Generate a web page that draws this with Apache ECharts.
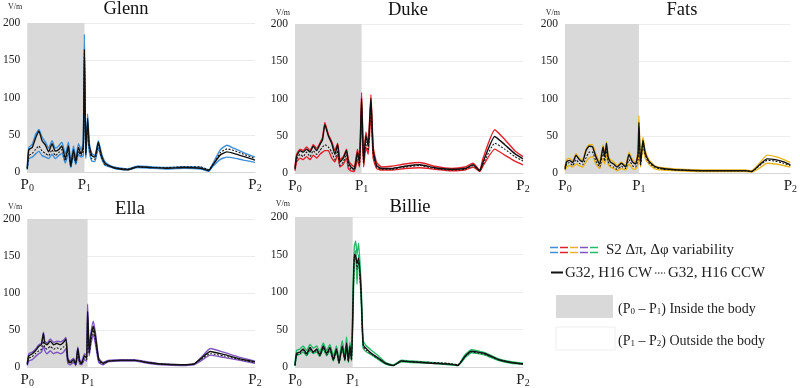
<!DOCTYPE html>
<html>
<head>
<meta charset="utf-8">
<script src="https://cdn.jsdelivr.net/npm/echarts@6/dist/echarts.min.js"></script>
<style>
  html, body { margin: 0; padding: 0; background: #fff; }
  #chart { width: 800px; height: 388px; }
</style>
</head>
<body>
<div id="chart"></div>
<script>
// position along the probe line, in % of P0..P2; P1 marks the body boundary
const glennP1 = 25.1;
const glennX = [0, 0.7, 2.2, 3.6, 5.1, 6.5, 8.0, 9.4, 10.9, 12.3, 13.8, 15.2, 16.7, 18.1, 19.1, 20.3, 21.3, 22.5, 23.6, 24.6, 25.1, 25.7, 26.5, 27.2, 28.3, 29.7, 31.2, 32.6, 34.1, 36.2, 39.1, 44.2, 48.6, 54.3, 61.6, 68.8, 76.1, 79.7, 81.6, 84.8, 87.7, 90.6, 94.9, 100];
const glennHi = [5, 33, 37, 50, 57, 47, 40, 32, 42, 32, 35, 40, 24, 40, 13, 35, 19, 38, 30, 40, 185, 30, 78, 40, 25, 22, 42, 25, 14, 9, 6, 4, 8, 7, 6, 7, 6, 3, 12, 30, 36, 32, 26, 20];
const glennLo = [3, 18, 20, 24, 28, 22, 20, 18, 24, 18, 22, 25, 12, 25, 6, 22, 10, 24, 20, 22, 150, 18, 55, 28, 15, 14, 32, 18, 9, 7, 4, 3, 6, 5, 4, 5, 4, 1, 8, 17, 20, 19, 16, 13];
const glennCW = [5, 30, 33, 45, 55, 42, 36, 27, 38, 28, 30, 35, 18, 35, 8, 30, 14, 33, 24, 35, 165, 25, 72, 36, 22, 20, 40, 22, 12, 8, 5, 3, 7, 6, 5, 6, 5, 2, 10, 23, 27, 25, 21, 16];
const glennCCW = [4, 22, 25, 30, 35, 28, 25, 22, 30, 22, 26, 30, 15, 30, 7, 26, 12, 28, 22, 28, 160, 22, 65, 32, 18, 17, 36, 20, 10, 8, 5, 4, 7, 6, 6, 7, 7, 3, 10, 26, 31, 29, 24, 18];

const dukeP1 = 29.2;
const dukeX = [0, 0.7, 2.2, 3.6, 5.1, 6.6, 8.0, 9.5, 10.9, 12.1, 13.1, 14.6, 16.1, 17.5, 18.7, 19.7, 21.2, 22.6, 23.4, 24.5, 26.0, 27.4, 28.3, 29.2, 30.1, 31.1, 32.1, 33.3, 34.3, 35.8, 38.0, 42.3, 48.2, 54.7, 61.3, 68.6, 74.5, 78.1, 81.0, 82.5, 87.6, 92.0, 96.4, 100];
const dukeHi = [8, 25, 32, 30, 35, 30, 38, 33, 40, 48, 68, 52, 42, 30, 40, 18, 22, 32, 18, 12, 8, 32, 18, 108, 20, 55, 40, 105, 35, 14, 8, 9, 12, 14, 9, 6, 8, 13, 4, 20, 58, 45, 30, 22];
const dukeLo = [3, 15, 20, 18, 22, 18, 24, 20, 25, 28, 30, 30, 20, 15, 25, 8, 12, 20, 6, 3, 2, 18, 8, 80, 8, 35, 25, 80, 20, 6, 4, 4, 6, 7, 5, 3, 4, 8, 2, 10, 32, 24, 16, 11];
const dukeCW = [6, 22, 30, 28, 32, 28, 36, 30, 38, 45, 65, 50, 40, 25, 38, 15, 20, 30, 15, 8, 5, 28, 14, 100, 15, 50, 36, 100, 30, 10, 6, 6, 9, 11, 7, 5, 6, 11, 3, 15, 49, 38, 26, 19];
const dukeCCW = [5, 18, 25, 22, 28, 22, 30, 25, 30, 35, 38, 35, 28, 18, 30, 10, 15, 25, 10, 5, 4, 22, 10, 90, 12, 42, 30, 95, 25, 8, 5, 5, 8, 10, 6, 4, 5, 10, 3, 12, 40, 32, 22, 16];

const fatsP1 = 32.8;
const fatsX = [0, 0.7, 1.9, 3.4, 4.9, 6.3, 7.8, 9.3, 10.7, 12.2, 13.7, 15.4, 16.9, 17.6, 18.4, 19.1, 20.1, 21.6, 23.1, 25.0, 26.9, 28.4, 29.9, 31.3, 32.4, 32.8, 33.5, 34.6, 35.6, 37.2, 39.7, 43.4, 50.7, 61.0, 72.8, 80.1, 82.8, 86.0, 89.7, 93.4, 97.1, 100];
const fatsHi = [8, 18, 20, 16, 26, 20, 18, 32, 38, 38, 25, 15, 38, 25, 42, 25, 18, 15, 10, 15, 10, 28, 18, 14, 30, 77, 15, 48, 30, 18, 10, 7, 5, 4, 4, 4, 3, 12, 24, 22, 18, 14];
const fatsLo = [3, 8, 10, 8, 12, 10, 8, 15, 20, 22, 12, 6, 20, 12, 25, 12, 8, 6, 3, 6, 4, 12, 6, 5, 12, 45, 8, 35, 20, 12, 6, 4, 3, 2, 2, 2, 1, 6, 13, 12, 10, 8];
const fatsCW = [6, 15, 17, 14, 24, 18, 15, 30, 36, 35, 22, 12, 35, 22, 40, 22, 15, 12, 8, 13, 8, 25, 15, 12, 25, 68, 12, 44, 27, 16, 9, 6, 4, 3, 3, 3, 2, 10, 19, 18, 15, 11];
const fatsCCW = [5, 12, 14, 10, 18, 13, 11, 20, 28, 28, 16, 8, 28, 16, 32, 16, 10, 8, 5, 9, 6, 18, 10, 8, 18, 60, 10, 40, 24, 14, 8, 5, 4, 3, 3, 3, 2, 9, 17, 16, 13, 10];

const ellaP1 = 26.5;
const ellaX = [0, 0.7, 2.2, 3.6, 5.1, 6.2, 7.1, 7.7, 8.7, 10.1, 11.6, 13.0, 14.5, 15.9, 17.0, 17.8, 18.8, 20.3, 21.3, 22.2, 23.0, 23.9, 25.1, 26.1, 26.5, 27.2, 27.9, 29.0, 30.0, 31.4, 33.3, 35.5, 41.3, 47.1, 52.9, 58.7, 67.4, 73.2, 76.1, 80.4, 86.2, 93.5, 100];
const ellaHi = [5, 18, 20, 24, 30, 32, 47, 35, 32, 38, 33, 35, 34, 36, 40, 12, 8, 12, 5, 27, 10, 7, 18, 15, 85, 25, 45, 62, 45, 12, 6, 9, 10, 10, 7, 4, 3, 4, 12, 25, 20, 13, 8];
const ellaLo = [2, 8, 10, 14, 18, 20, 28, 22, 18, 22, 18, 20, 18, 20, 25, 5, 3, 6, 2, 15, 4, 3, 10, 8, 55, 15, 30, 45, 30, 6, 3, 7, 8, 8, 5, 3, 2, 3, 8, 16, 13, 9, 5];
const ellaCW = [4, 15, 18, 22, 28, 30, 45, 32, 30, 35, 30, 32, 30, 33, 38, 10, 6, 10, 4, 25, 8, 5, 15, 12, 75, 20, 40, 55, 40, 10, 5, 8, 9, 9, 6, 4, 3, 4, 11, 21, 17, 11, 7];
const ellaCCW = [3, 12, 14, 18, 22, 24, 35, 26, 24, 28, 24, 26, 24, 27, 30, 8, 5, 8, 3, 20, 6, 4, 12, 10, 65, 18, 35, 50, 35, 8, 4, 8, 9, 9, 6, 4, 3, 4, 10, 18, 15, 10, 6];

const billieP1 = 25.3;
const billieX = [0, 0.7, 2.2, 3.6, 5.1, 6.6, 8.0, 9.5, 10.9, 12.4, 13.9, 15.3, 16.8, 18.2, 19.3, 20.7, 21.9, 22.6, 23.4, 24.1, 24.8, 25.4, 26.0, 26.6, 27.2, 27.9, 29.0, 29.9, 31.4, 33.6, 36.5, 39.7, 43.1, 46.7, 51.1, 59.9, 67.2, 71.5, 74.5, 77.4, 83.2, 89.1, 94.9, 100];
const billieHi = [3, 22, 24, 28, 22, 30, 25, 28, 20, 32, 22, 30, 15, 28, 10, 35, 15, 40, 12, 33, 15, 100, 160, 168, 150, 165, 110, 35, 28, 22, 15, 6, 3, 9, 8, 6, 4, 3, 16, 23, 19, 11, 7, 5];
const billieLo = [2, 15, 17, 20, 15, 22, 18, 20, 14, 24, 15, 22, 8, 20, 5, 25, 8, 28, 6, 22, 8, 60, 145, 155, 110, 150, 90, 25, 20, 16, 10, 4, 2, 7, 6, 5, 3, 2, 12, 19, 16, 9, 5, 4];
const billieCW = [2, 18, 20, 24, 18, 26, 20, 24, 16, 28, 18, 26, 10, 24, 6, 28, 10, 32, 8, 28, 10, 80, 150, 148, 138, 145, 100, 30, 24, 18, 12, 5, 2, 8, 7, 5, 4, 2, 14, 21, 18, 10, 6, 4];
const billieCCW = [2, 16, 18, 22, 16, 24, 19, 22, 15, 26, 16, 24, 9, 22, 5, 26, 9, 30, 7, 26, 9, 75, 145, 150, 130, 140, 95, 28, 22, 17, 11, 5, 2, 8, 7, 6, 5, 3, 14, 20, 17, 10, 6, 4];

const serif = "'Liberation Serif', 'DejaVu Serif', serif";

var panels = [
  { name: "Glenn", color: "#3d8fd9", p1: glennP1, x: glennX, hi: glennHi, lo: glennLo, cw: glennCW, ccw: glennCCW,
    grid: { left: 25, top: 23, width: 230, height: 149 }, title: [126, 9], nameGap: 12 },
  { name: "Duke", color: "#e3202b", p1: dukeP1, x: dukeX, hi: dukeHi, lo: dukeLo, cw: dukeCW, ccw: dukeCCW,
    grid: { left: 295, top: 24, width: 228, height: 149 }, title: [408, 10], nameGap: 7 },
  { name: "Fats", color: "#e9b51c", p1: fatsP1, x: fatsX, hi: fatsHi, lo: fatsLo, cw: fatsCW, ccw: fatsCCW,
    grid: { left: 565, top: 24, width: 227, height: 149 }, title: [682, 10], nameGap: 7 },
  { name: "Ella", color: "#7e55c0", p1: ellaP1, x: ellaX, hi: ellaHi, lo: ellaLo, cw: ellaCW, ccw: ellaCCW,
    grid: { left: 25, top: 219, width: 230, height: 149 }, title: [130, 209], nameGap: 8 },
  { name: "Billie", color: "#27b86a", p1: billieP1, x: billieX, hi: billieHi, lo: billieLo, cw: billieCW, ccw: billieCCW,
    grid: { left: 295, top: 217, width: 228, height: 150 }, title: [410, 207], nameGap: 9 },
];

function pairs(xs, ys) {
  return xs.map(function (x, i) { return [x, ys[i]]; });
}

var subRich = {
  p: { fontFamily: serif, fontSize: 15, color: "#222", lineHeight: 18, verticalAlign: "bottom" },
  s: { fontFamily: serif, fontSize: 10, color: "#222", lineHeight: 18, verticalAlign: "bottom", padding: [5, 0, 0, 0] },
};

var grids = [], xAxes = [], yAxes = [], series = [], graphics = [];

panels.forEach(function (p, i) {
  grids.push(Object.assign({ containLabel: false }, p.grid));
  xAxes.push({
    type: "value", gridIndex: i, min: 0, max: 100,
    splitLine: { show: false },
    axisTick: { show: false },
    axisLine: { show: true, lineStyle: { color: "#d6d6d6" } },
    axisLabel: {
      customValues: [0, p.p1, 100],
      margin: 3,
      formatter: function (v) {
        if (v === 0) return "{p|P}{s|0}";
        if (v === 100) return "{p|P}{s|2}";
        return "{p|P}{s|1}";
      },
      rich: subRich,
    },
  });
  yAxes.push({
    type: "value", gridIndex: i, min: 0, max: 200, interval: 50,
    name: "V/m", nameLocation: "end", nameGap: p.nameGap,
    nameTextStyle: { fontFamily: serif, fontSize: 8, color: "#222", align: "right", padding: [0, 5, 0, 0] },
    axisLine: { show: false }, axisTick: { show: false },
    axisLabel: { fontFamily: serif, fontSize: 11.5, color: "#222", margin: 7 },
    splitLine: { lineStyle: { color: "#ececec" } },
  });
  var common = { type: "line", xAxisIndex: i, yAxisIndex: i, showSymbol: false, smooth: 0.15, silent: true, animation: false };
  series.push(Object.assign({}, common, {
    name: p.name + " upper", data: pairs(p.x, p.hi), lineStyle: { color: p.color, width: 1.4 },
    markArea: {
      silent: true,
      itemStyle: { color: "#d9d9d9" },
      data: [[{ xAxis: 0, yAxis: 0 }, { xAxis: p.p1, yAxis: 200 }]],
    },
  }));
  series.push(Object.assign({}, common, {
    name: p.name + " lower", data: pairs(p.x, p.lo), lineStyle: { color: p.color, width: 1.4 },
  }));
  series.push(Object.assign({}, common, {
    name: p.name + " CCW", data: pairs(p.x, p.ccw), lineStyle: { color: "#1a1a1a", width: 1.1, type: [2, 1.5] },
  }));
  series.push(Object.assign({}, common, {
    name: p.name + " CW", data: pairs(p.x, p.cw), lineStyle: { color: "#111", width: 1.4 },
  }));
  graphics.push({
    type: "text", x: p.title[0], y: p.title[1],
    style: { text: p.name, fontFamily: serif, fontSize: 18.5, fill: "#111", textAlign: "center", textVerticalAlign: "middle" },
  });
});

// custom legend
var legendColors = panels.map(function (p) { return p.color; });
legendColors.forEach(function (c, k) {
  var x0 = 550 + k * 10;
  [247.5, 252.5].forEach(function (y) {
    graphics.push({ type: "line", shape: { x1: x0, y1: y, x2: x0 + 8, y2: y }, style: { stroke: c, lineWidth: 1.5 } });
  });
});
var legendFont = { fontFamily: serif, fontSize: 15, fill: "#222", textVerticalAlign: "middle" };
graphics.push({ type: "text", x: 606, y: 250, style: Object.assign({ text: "S2 Δπ, Δφ variability" }, legendFont) });
graphics.push({ type: "line", shape: { x1: 551, y1: 272.5, x2: 563, y2: 272.5 }, style: { stroke: "#111", lineWidth: 2 } });
graphics.push({ type: "text", x: 565, y: 273, style: Object.assign({ text: "G32, H16 CW" }, legendFont) });
graphics.push({ type: "line", shape: { x1: 655, y1: 273, x2: 665, y2: 273 }, style: { stroke: "#111", lineWidth: 1.2, lineDash: [1.5, 1.5] } });
graphics.push({ type: "text", x: 668, y: 273, style: Object.assign({ text: "G32, H16 CCW" }, legendFont) });
graphics.push({ type: "rect", shape: { x: 556, y: 295, width: 57, height: 23 }, style: { fill: "#d9d9d9" } });
graphics.push({ type: "rect", shape: { x: 556, y: 327, width: 59, height: 23 }, style: { fill: "#fff", stroke: "#eeeeee", lineWidth: 1 } });
var boxRich = {
  t: { fontFamily: serif, fontSize: 14, fill: "#222", lineHeight: 18, verticalAlign: "bottom" },
  s: { fontFamily: serif, fontSize: 9, fill: "#222", lineHeight: 18, verticalAlign: "bottom", padding: [5, 0, 0, 0] },
};
graphics.push({ type: "text", x: 618, y: 307, style: { text: "{t|(P}{s|0}{t| – P}{s|1}{t|) Inside the body}", rich: boxRich, textVerticalAlign: "middle" } });
graphics.push({ type: "text", x: 618, y: 339, style: { text: "{t|(P}{s|1}{t| – P}{s|2}{t|) Outside the body}", rich: boxRich, textVerticalAlign: "middle" } });

var chart = echarts.init(document.getElementById("chart"), null, { renderer: "canvas" });
chart.setOption({
  animation: false,
  backgroundColor: "#fff",
  grid: grids,
  xAxis: xAxes,
  yAxis: yAxes,
  series: series,
  graphic: graphics,
});
</script>
</body>
</html>
